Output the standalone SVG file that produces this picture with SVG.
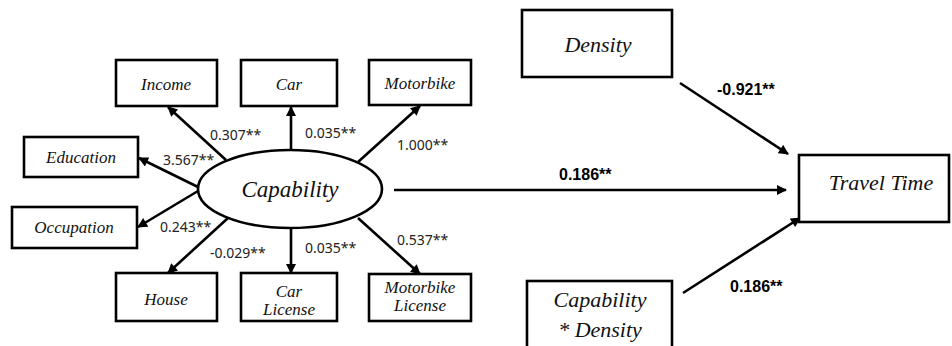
<svg xmlns="http://www.w3.org/2000/svg" width="952" height="346" viewBox="0 0 952 346">
<style>
.box{fill:#fff;stroke:#000;stroke-width:2.6}
.nt{font-family:'Liberation Serif','DejaVu Serif',serif;font-style:italic;font-size:17px;fill:#111;text-anchor:middle}
.big{font-size:22px}
.lbl{font-family:'Noto Sans','Liberation Sans',sans-serif;font-size:14px;fill:#222}
.blbl{font-family:'Liberation Sans',Arial,sans-serif;font-weight:bold;font-size:16px;fill:#000}
.ln{stroke:#000;stroke-width:2.6;fill:none;marker-end:url(#ah)}
</style>
<defs>
<marker id="ah" viewBox="0 0 10 10" refX="9" refY="5" markerWidth="11" markerHeight="10" markerUnits="userSpaceOnUse" orient="auto">
<path d="M0,0 L10,5 L0,10 z" fill="#000"/>
</marker>
</defs>
<rect width="952" height="346" fill="#fff"/>
<g id="connectors">
<line class="ln" x1="226" y1="160" x2="168" y2="107"/>
<line class="ln" x1="291" y1="150" x2="291" y2="107"/>
<line class="ln" x1="358" y1="162" x2="420" y2="106"/>
<line class="ln" x1="198" y1="187" x2="139" y2="158"/>
<line class="ln" x1="198" y1="191" x2="138" y2="227"/>
<line class="ln" x1="228" y1="218" x2="168" y2="273"/>
<line class="ln" x1="291" y1="228" x2="291" y2="273"/>
<line class="ln" x1="358" y1="218" x2="420" y2="274"/>
<line class="ln" x1="394" y1="190" x2="786" y2="190"/>
<line class="ln" x1="680" y1="83" x2="788" y2="154"/>
<line class="ln" x1="683" y1="293" x2="800" y2="218"/>
<text class="lbl" x="210" y="140">0.307**</text>
<text class="lbl" x="305" y="138">0.035**</text>
<text class="lbl" x="397" y="150">1.000**</text>
<text class="lbl" x="163" y="165">3.567**</text>
<text class="lbl" x="160" y="232">0.243**</text>
<text class="lbl" x="210" y="258">-0.029**</text>
<text class="lbl" x="305" y="253">0.035**</text>
<text class="lbl" x="397" y="245">0.537**</text>
<text class="blbl" x="717" y="95">-0.921**</text>
<text class="blbl" x="559" y="180">0.186**</text>
<text class="blbl" x="730" y="292">0.186**</text>
</g>
<g id="capability">
<ellipse cx="290" cy="189" rx="92" ry="39" fill="#fff" stroke="#000" stroke-width="2.6"/>
<text class="nt" x="290" y="197" style="font-size:23px">Capability</text>
</g>
<g id="income"><rect class="box" x="116" y="60" width="101" height="46"/><text class="nt" x="166" y="90">Income</text></g>
<g id="car"><rect class="box" x="241" y="60" width="96" height="46"/><text class="nt" x="289" y="90">Car</text></g>
<g id="motorbike"><rect class="box" x="369" y="60" width="102" height="45"/><text class="nt" x="420" y="89">Motorbike</text></g>
<g id="education"><rect class="box" x="24" y="137" width="114" height="40"/><text class="nt" x="81" y="163">Education</text></g>
<g id="occupation"><rect class="box" x="12" y="207" width="125" height="41"/><text class="nt" x="74" y="233">Occupation</text></g>
<g id="house"><rect class="box" x="116" y="273" width="101" height="48"/><text class="nt" x="166" y="305">House</text></g>
<g id="car-license"><rect class="box" x="241" y="273" width="96" height="48"/><text class="nt" x="289" y="297">Car</text><text class="nt" x="289" y="315">License</text></g>
<g id="motorbike-license"><rect class="box" x="369" y="274" width="102" height="47"/><text class="nt" x="420" y="293">Motorbike</text><text class="nt" x="420" y="311">License</text></g>
<g id="density"><rect class="box" x="522" y="10" width="150" height="67"/><text class="nt big" x="598" y="52">Density</text></g>
<g id="travel-time"><rect class="box" x="799" y="155" width="150" height="67"/><text class="nt big" x="881" y="190">Travel Time</text></g>
<g id="capability-density"><rect class="box" x="527" y="281" width="145" height="80"/><text class="nt big" x="600" y="307">Capability</text><text class="nt big" x="600" y="337">* Density</text></g>
</svg>
